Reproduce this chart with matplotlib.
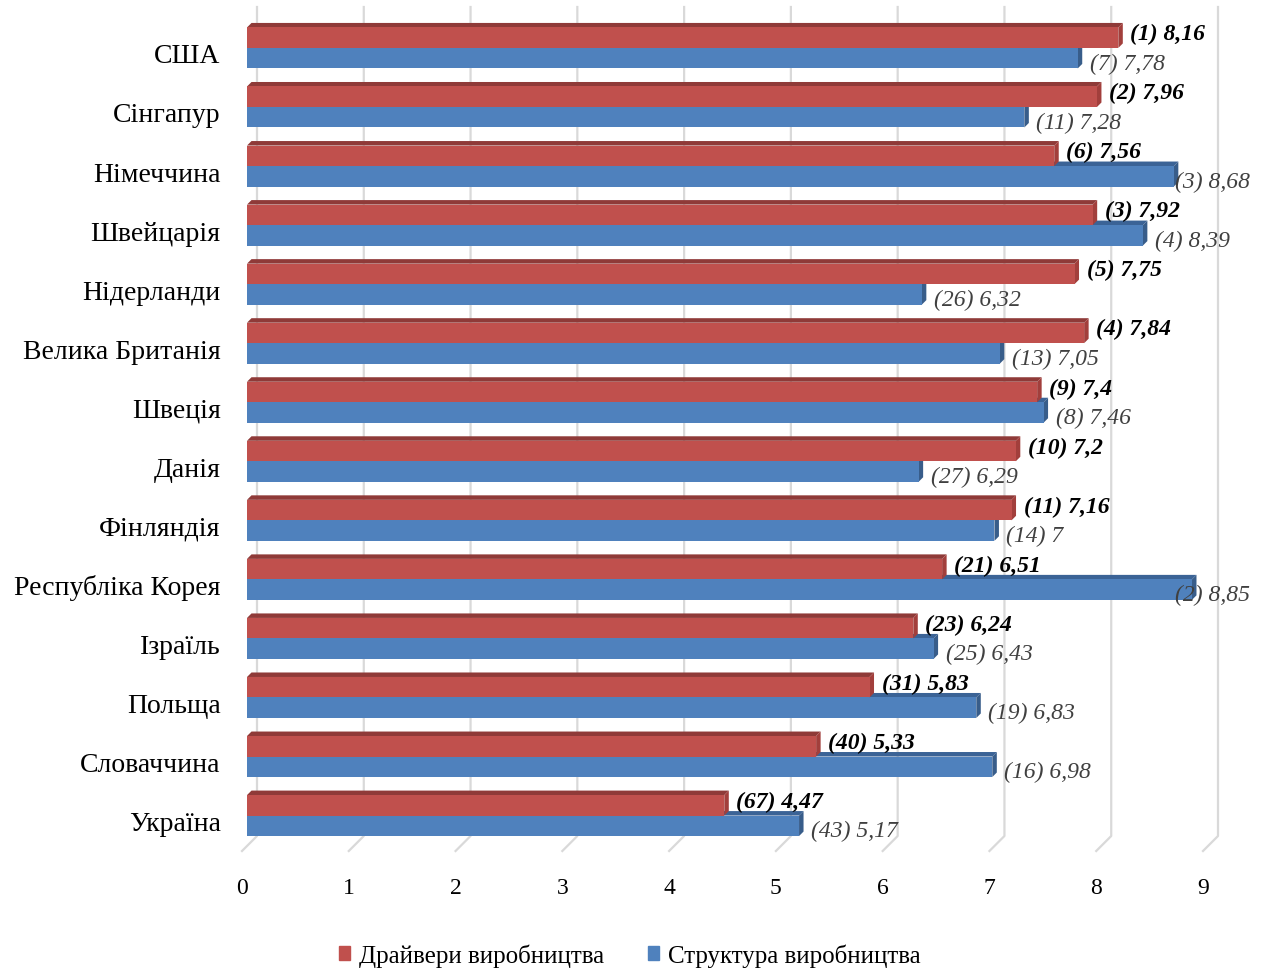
import matplotlib
matplotlib.use("Agg")
import matplotlib.pyplot as plt
from matplotlib.patches import Polygon, Patch
from matplotlib.transforms import IdentityTransform, ScaledTranslation
import numpy as np

plt.rcParams['font.family'] = ['Liberation Serif', 'DejaVu Serif']

countries = ["США", "Сінгапур", "Німеччина", "Швейцарія", "Нідерланди",
             "Велика Британія", "Швеція", "Данія", "Фінляндія",
             "Республіка Корея", "Ізраїль", "Польща", "Словаччина", "Україна"]
drivers = [8.16, 7.96, 7.56, 7.92, 7.75, 7.84, 7.4, 7.2, 7.16, 6.51, 6.24, 5.83, 5.33, 4.47]
drivers_rank = [1, 2, 6, 3, 5, 4, 9, 10, 11, 21, 23, 31, 40, 67]
structure = [7.78, 7.28, 8.68, 8.39, 6.32, 7.05, 7.46, 6.29, 7, 8.85, 6.43, 6.83, 6.98, 5.17]
structure_rank = [7, 11, 3, 4, 26, 13, 8, 27, 14, 2, 25, 19, 16, 43]
series_names = ["Драйвери виробництва", "Структура виробництва"]
x_ticks = list(range(0, 10))

RED, RED_TOP, RED_SIDE = "#C0504D", "#8F3A38", "#A23F3C"
BLUE, BLUE_TOP, BLUE_SIDE = "#4F81BD", "#3B6396", "#385D8A"
GRID = "#D9D9D9"

W, H, DPI = 1267, 970, 100
fig = plt.figure(figsize=(W / DPI, H / DPI), dpi=DPI)
ax = fig.add_axes([247 / W, 1 - 852 / H, 961 / W, (852 - 13.5) / H])
ax.patch.set_visible(False)
ax.set_xlim(0, 9)
ax.set_ylim(13.6, -0.6)
for s in ax.spines.values():
    s.set_visible(False)

n = len(countries)
pos = np.arange(n)
h = 0.347
DX, DY = 4.5, 4.5          # depth of the bars, pixels
BACK = 10                  # back wall shift of the gridlines, pixels
FRONT = -5                 # front edge of the floor, pixels


def px(x, y):
    return ax.transData.transform((x, y))


# gridlines on the back wall and the floor, drawn beneath the axes
ident = IdentityTransform()
y_top_px = H - 8
y_wall_px = H - 837
y_floor_px = H - 852
for v in x_ticks:
    xb = px(v, 0)[0]
    fig.add_artist(plt.Line2D([xb + BACK, xb + BACK, xb + FRONT],
                              [y_top_px, y_wall_px, y_floor_px],
                              transform=ident, color=GRID, lw=1.6,
                              clip_on=False, zorder=-1))

red_bars = ax.barh(pos - h / 2, drivers, height=h, color=RED, zorder=3)
blue_bars = ax.barh(pos + h / 2, structure, height=h, color=BLUE, zorder=3)


def faces(value, yc, top_col, side_col, z):
    (xl, yt) = px(0, yc - h / 2)
    (xr, yb) = px(value, yc + h / 2)
    top = [(xl, yt), (xr, yt), (xr + DX, yt + DY), (xl + DX, yt + DY)]
    side = [(xr, yb), (xr, yt), (xr + DX, yt + DY), (xr + DX, yb + DY)]
    for pts, col in ((top, top_col), (side, side_col)):
        poly = Polygon(pts, closed=True, transform=ident, facecolor=col,
                       edgecolor='none', zorder=z)
        ax.add_patch(poly)
        poly.set_clip_on(False)


for i in range(n):
    blue_bars[i].set_zorder(2 + i * 0.01 + 0.002)
    faces(structure[i], pos[i] + h / 2, BLUE_TOP, BLUE_SIDE, 2 + i * 0.01 + 0.001)
    red_bars[i].set_zorder(2 + i * 0.01 + 0.005)
    faces(drivers[i], pos[i] - h / 2, RED_TOP, RED_SIDE, 2 + i * 0.01 + 0.004)


def fmt(v):
    return f"{v:g}".replace(".", ",")


RED_OFF = (12, 4)
BLUE_OFF = (12, -5)
red_labels, blue_labels = [], []
for i in range(n):
    t = ax.annotate(f"({drivers_rank[i]}) {fmt(drivers[i])}",
                    xy=(drivers[i], pos[i] - h / 2), xytext=RED_OFF,
                    textcoords="offset pixels", ha="left", va="center",
                    fontsize=17, fontweight="bold", fontstyle="italic",
                    color="black", zorder=10, annotation_clip=False)
    red_labels.append(t)
    t = ax.annotate(f"({structure_rank[i]}) {fmt(structure[i])}",
                    xy=(structure[i], pos[i] + h / 2), xytext=BLUE_OFF,
                    textcoords="offset pixels", ha="left", va="center",
                    fontsize=17, fontstyle="italic", color="#404040",
                    zorder=10, annotation_clip=False)
    blue_labels.append(t)

# category labels
ax.set_yticks(pos)
ax.set_yticklabels(countries, fontsize=20)
ax.tick_params(axis="y", length=0, pad=19)
for lab in ax.get_yticklabels():
    lab.set_transform(lab.get_transform() +
                      ScaledTranslation(0, -5 / DPI, fig.dpi_scale_trans))

ax.set_xticks(x_ticks)
ax.set_xticklabels([str(v) for v in x_ticks], fontsize=17)
ax.tick_params(axis="x", length=0, pad=19)
for lab in ax.get_xticklabels():
    lab.set_transform(lab.get_transform() +
                      ScaledTranslation(FRONT / DPI, 0, fig.dpi_scale_trans))
ax.grid(False)

fig.legend(handles=[Patch(color=RED), Patch(color=BLUE)], labels=series_names,
           loc="center", bbox_to_anchor=(0.497, 14 / H), ncol=2, frameon=False,
           fontsize=18, handlelength=0.45, handleheight=0.45, handletextpad=0.35,
           columnspacing=1.75)

# keep value labels inside the figure
RIGHT_LIMIT = 1250
fig.canvas.draw()
renderer = fig.canvas.get_renderer()
for i, t in enumerate(blue_labels):
    bb = t.get_window_extent(renderer)
    if bb.x1 > RIGHT_LIMIT:
        xr = px(structure[i], 0)[0]
        t.set_ha("right")
        t.xyann = (RIGHT_LIMIT - xr, BLUE_OFF[1])

fig.savefig("out.png", dpi=DPI)
